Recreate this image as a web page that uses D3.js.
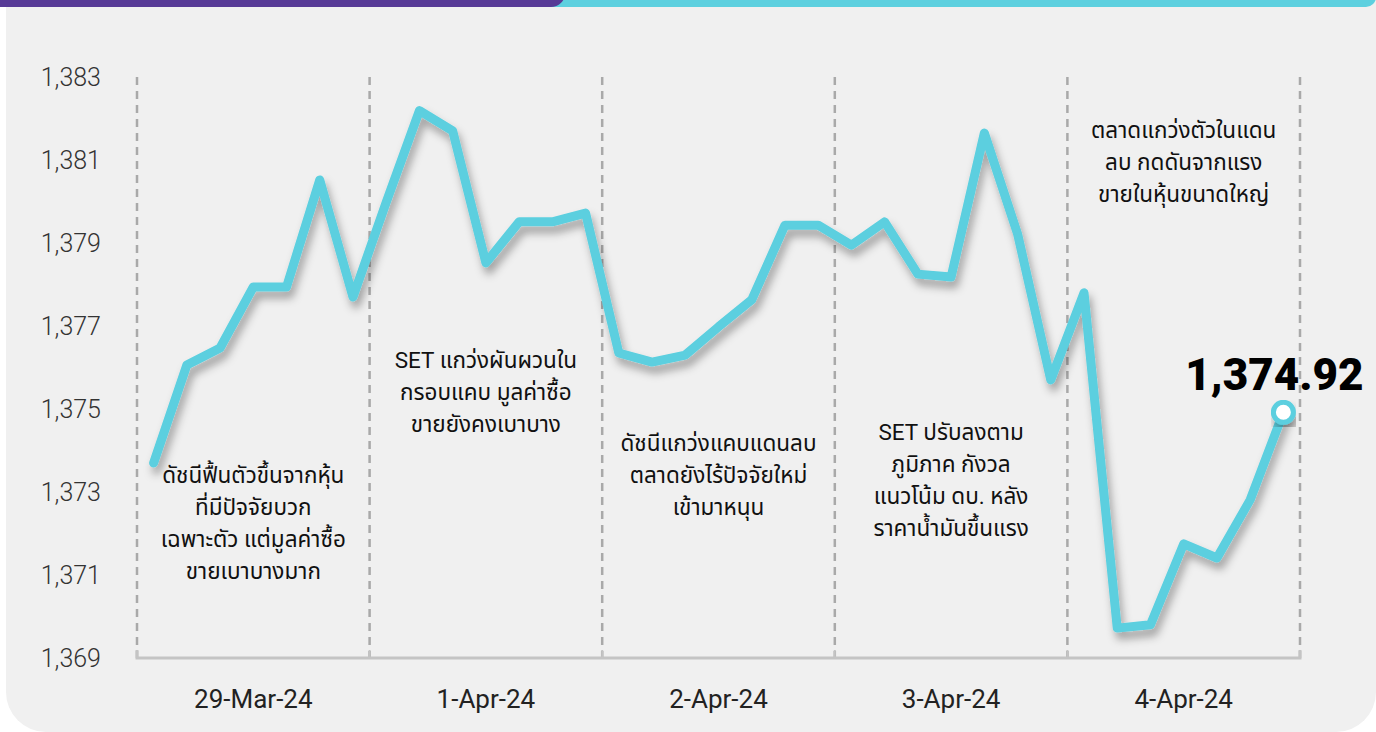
<!DOCTYPE html>
<html>
<head>
<meta charset="utf-8">
<script src="https://cdnjs.cloudflare.com/ajax/libs/d3/7.8.5/d3.min.js"></script>
<style>
  body { margin:0; background:#fff; overflow:hidden; }
  text { font-family: Roboto, "Noto Sans Thai", "Noto Sans", sans-serif; }
</style>
</head>
<body>
<script>
// data
var days = ["29-Mar-24", "1-Apr-24", "2-Apr-24", "3-Apr-24", "4-Apr-24"];
var values = [
  1373.70, 1376.06, 1376.47, 1377.94, 1377.94, 1380.52, 1377.70,
  1379.98, 1382.19, 1381.70, 1378.52, 1379.51, 1379.51, 1379.72,
  1376.35, 1376.13, 1376.30, 1376.98, 1377.63, 1379.43, 1379.43,
  1378.95, 1379.51, 1378.25, 1378.18, 1381.65, 1379.22, 1375.70,
  1377.80, 1369.72, 1369.80, 1371.75, 1371.41, 1372.81, 1374.92
];
var yTicks = [1369, 1371, 1373, 1375, 1377, 1379, 1381, 1383];
var lastLabel = "1,374.92";
var notes = [
  ["ดัชนีฟื้นตัวขึ้นจากหุ้น", "ที่มีปัจจัยบวก", "เฉพาะตัว แต่มูลค่าซื้อ", "ขายเบาบางมาก"],
  ["SET แกว่งผันผวนใน", "กรอบแคบ มูลค่าซื้อ", "ขายยังคงเบาบาง"],
  ["ดัชนีแกว่งแคบแดนลบ", "ตลาดยังไร้ปัจจัยใหม่", "เข้ามาหนุน"],
  ["SET ปรับลงตาม", "ภูมิภาค กังวล", "แนวโน้ม ดบ. หลัง", "ราคาน้ำมันขึ้นแรง"],
  ["ตลาดแกว่งตัวในแดน", "ลบ กดดันจากแรง", "ขายในหุ้นขนาดใหญ่"]
];
var noteTop = [475, 360, 443, 432, 130];

var W = 1376, H = 732;
var plotL = 137, plotR = 1300, plotT = 77, plotB = 658;

var svg = d3.select("body").append("svg")
    .attr("width", W).attr("height", H);

var defs = svg.append("defs");
var f = defs.append("filter").attr("id", "shadow")
    .attr("x", "-10%").attr("y", "-10%").attr("width", "120%").attr("height", "130%");
f.append("feDropShadow")
    .attr("dx", 3).attr("dy", 7).attr("stdDeviation", 4.5)
    .attr("flood-color", "#000").attr("flood-opacity", 0.33);

// panel + top bars
svg.append("rect").attr("x", 6).attr("y", -40).attr("width", W - 6).attr("height", H + 40)
    .attr("rx", 40).attr("fill", "#f0f0f0");
svg.append("rect").attr("x", 0).attr("y", -20).attr("width", W).attr("height", 27)
    .attr("rx", 10).attr("fill", "#5dd0df");
svg.append("rect").attr("x", -20).attr("y", -20).attr("width", 585).attr("height", 27)
    .attr("rx", 14).attr("fill", "#573a96");

var xDay = d3.scaleBand().domain(days).range([plotL, plotR]);
var x = d3.scaleBand().domain(d3.range(values.length)).range([plotL, plotR]);
var y = d3.scaleLinear().domain([1369, 1383]).range([plotB, plotT]);

// y axis labels
var yAxis = d3.axisLeft(y).tickValues(yTicks).tickFormat(d3.format(",")).tickSize(0).tickPadding(0);
var gy = svg.append("g").attr("transform", "translate(101,0)").call(yAxis);
gy.select(".domain").remove();
gy.selectAll("text").attr("font-size", 25).attr("font-weight", 300).attr("fill", "#333")
    .style("font-family", "Roboto, sans-serif");

// dashed day dividers
var bounds = days.map(function (d) { return xDay(d); }).concat([plotR]);
svg.append("g").selectAll("line").data(bounds).enter().append("line")
    .attr("x1", function (d) { return d; }).attr("x2", function (d) { return d; })
    .attr("y1", plotT).attr("y2", plotB)
    .attr("stroke", "#a9a9a9").attr("stroke-width", 2.5).attr("stroke-dasharray", "8,6");

// x axis
var xAxis = d3.axisBottom(xDay).tickSize(0).tickPadding(32);
var gx = svg.append("g").attr("transform", "translate(0," + plotB + ")").call(xAxis);
gx.select(".domain").attr("stroke", "#c4c4c4").attr("stroke-width", 3)
    .attr("d", "M" + plotL + ",-8V0H" + plotR + "V-8");
gx.selectAll("text").attr("font-size", 26).attr("fill", "#222")
    .style("font-family", "Roboto, sans-serif");
gx.append("g").selectAll("line").data(bounds).enter().append("line")
    .attr("x1", function (d) { return d; }).attr("x2", function (d) { return d; })
    .attr("y1", -8).attr("y2", 0).attr("stroke", "#c4c4c4").attr("stroke-width", 2);

// annotations
notes.forEach(function (lines, i) {
  var cx = xDay(days[i]) + xDay.bandwidth() / 2;
  var t = svg.append("text")
      .attr("x", cx).attr("y", noteTop[i])
      .attr("text-anchor", "middle")
      .attr("font-size", 22.5).attr("fill", "#111");
  lines.forEach(function (s, j) {
    t.append("tspan").attr("x", cx)
        .attr("dy", j === 0 ? "0.35em" : 32).text(s);
  });
});

// line
var line = d3.line()
    .x(function (d, i) { return x(i) + x.bandwidth() / 2; })
    .y(function (d) { return y(d); });

svg.append("path").datum(values)
    .attr("d", line)
    .attr("fill", "none").attr("stroke", "#5bcfdf").attr("stroke-width", 9)
    .attr("stroke-linejoin", "round").attr("stroke-linecap", "round")
    .attr("filter", "url(#shadow)");

var li = values.length - 1;
svg.append("circle")
    .attr("cx", x(li) + x.bandwidth() / 2).attr("cy", y(values[li]))
    .attr("r", 10).attr("fill", "#fff").attr("stroke", "#5bcfdf").attr("stroke-width", 5)
    .attr("filter", "url(#shadow)");

svg.append("text")
    .attr("x", x(li) + x.bandwidth() / 2 - 9).attr("y", y(values[li]) - 22)
    .attr("text-anchor", "middle").attr("font-size", 44).attr("font-weight", 900)
    .attr("fill", "#000").style("font-family", "Roboto, sans-serif")
    .text(lastLabel);
</script>
</body>
</html>
